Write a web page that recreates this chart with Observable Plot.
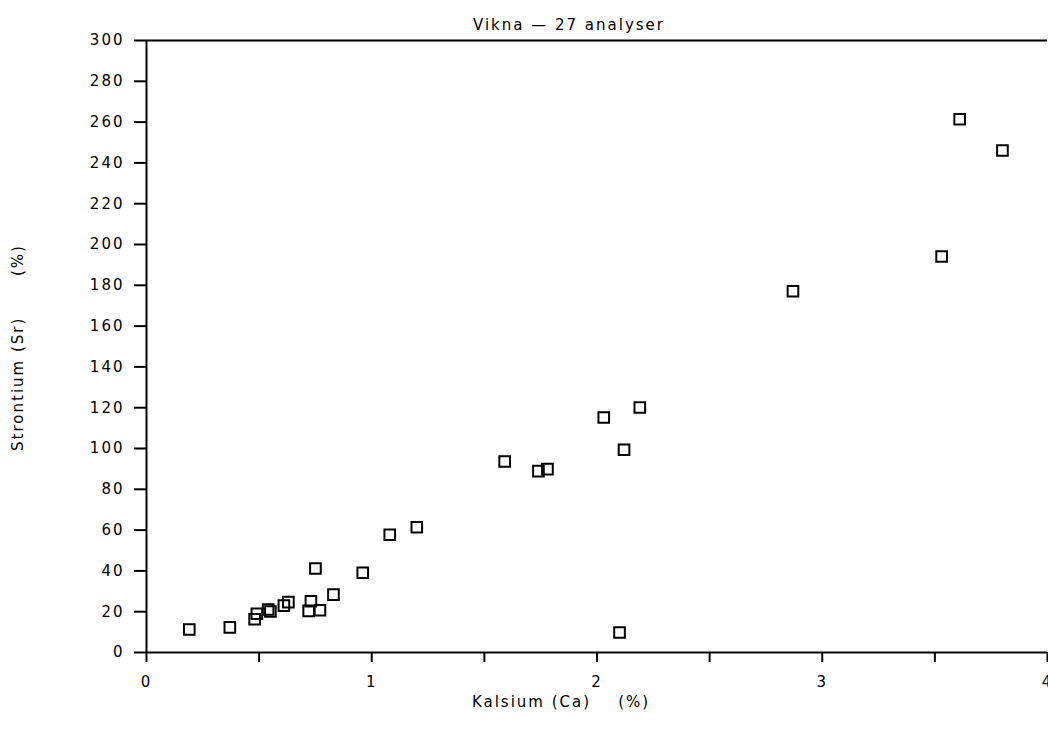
<!DOCTYPE html>
<html>
<head>
<meta charset="utf-8">
<script src="https://cdn.jsdelivr.net/npm/d3@7"></script>
<script src="https://cdn.jsdelivr.net/npm/@observablehq/plot@0.6"></script>
<style>
  body { margin: 0; background: #fff; }
  svg { display: block; }
  svg text { letter-spacing: 2px; }
</style>
</head>
<body>
<div id="chart"></div>
<script>
// Calcium (%) and strontium contents of the 27 Vikna samples
const kalsium = [
  0.19, 0.37, 0.48, 0.49, 0.54, 0.55, 0.61, 0.63, 0.73, 0.72,
  0.75, 0.77, 0.83, 0.96, 1.08, 1.20, 1.59, 1.74, 1.78, 2.03,
  2.12, 2.19, 2.10, 2.87, 3.53, 3.61, 3.80
];
const strontium = [
  11.3, 12.3, 16.3, 19.0, 21.1, 20.1, 23.0, 24.7, 25.1, 20.4,
  41.2, 20.7, 28.4, 39.1, 57.7, 61.4, 93.6, 88.9, 89.9, 115.2,
  99.4, 120.1, 9.8, 177.1, 194.1, 261.4, 246.1
];

const xTicks = [0, 0.5, 1, 1.5, 2, 2.5, 3, 3.5, 4];
const yTicks = [0, 20, 40, 60, 80, 100, 120, 140, 160, 180, 200, 220, 240, 260, 280, 300];

const title = "Vikna \u2014 27 analyser";
const xLabel = "Kalsium (Ca)\u00a0\u00a0\u00a0\u00a0(%)";
const yLabel = "Strontium (Sr)\u00a0\u00a0\u00a0\u00a0\u00a0\u00a0(%)";

const samples = kalsium.map((ca, i) => ({ca, sr: strontium[i]}));

const chart = Plot.plot({
  width: 1048,
  height: 738,
  marginLeft: 146,
  marginRight: 1,
  marginTop: 40,
  marginBottom: 86,
  style: {fontFamily: "DejaVu Sans", fontSize: "15px", color: "#000", background: "#fff"},
  x: {domain: [0, 4]},
  y: {domain: [0, 300]},
  marks: [
    // frame: left axis, baseline and top line
    Plot.ruleX([0], {stroke: "#000", strokeWidth: 2}),
    Plot.ruleY([0], {stroke: "#000", strokeWidth: 2}),
    Plot.ruleY([300], {stroke: "#000", strokeWidth: 2}),
    Plot.axisY({
      ticks: yTicks, tickSize: 12, tickPadding: 10, strokeWidth: 2,
      tickFormat: d => String(d), label: null, fontSize: 15
    }),
    Plot.axisX({
      ticks: xTicks, tickSize: 10, tickPadding: 14, strokeWidth: 2,
      tickFormat: d => Number.isInteger(d) ? String(d) : "", label: null, fontSize: 15
    }),
    Plot.dot(samples, {
      x: "ca", y: "sr", symbol: "square", r: 6,
      stroke: "#000", strokeWidth: 2, fill: "none"
    }),
    Plot.text([title], {frameAnchor: "top", dx: -28, dy: -21, fontSize: 15}),
    Plot.text([xLabel], {frameAnchor: "bottom", dx: -36, dy: 54, fontSize: 15}),
    Plot.text([yLabel], {frameAnchor: "left", textAnchor: "middle", rotate: -90, dx: -128, dy: 1, fontSize: 15})
  ]
});

document.getElementById("chart").appendChild(chart);
</script>
</body>
</html>
